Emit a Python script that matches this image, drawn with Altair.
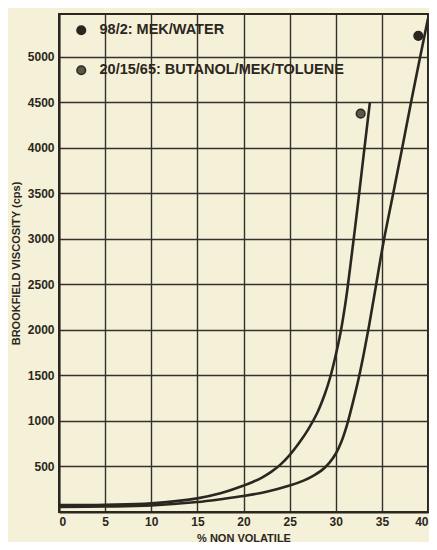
import altair as alt
import pandas as pd

# ---- data ----
butanol_x = [0, 5, 10, 15, 17.5, 20, 21, 22, 23, 24, 25, 26, 27, 28, 28.8, 29.4, 29.9,
             30.5, 31.1, 31.7, 32.4, 33.0, 33.7]
butanol_y = [75, 80, 95, 150, 205, 290, 330, 378, 440, 520, 625, 755, 905, 1090, 1290, 1480, 1680,
             1960, 2330, 2800, 3380, 3900, 4500]

mek_x = [0, 5, 10, 15, 17.5, 20, 22.5, 25, 26.5, 27.5, 28.5, 29.3, 30.0, 30.6, 31.2, 31.8,
         32.4, 33.0, 33.6, 34.35, 35.15, 36.15, 37.15, 38.2, 40]
mek_y = [55, 60, 72, 110, 140, 175, 222, 290, 345, 395, 460, 540, 640, 770, 950, 1180,
         1430, 1720, 2040, 2480, 2950, 3460, 3970, 4520, 5420]

series_names = ["98/2: MEK/WATER", "20/15/65: BUTANOL/MEK/TOLUENE"]
point_x = [38.95, 32.7]
point_y = [5230, 4375]

x_ticks = [0, 5, 10, 15, 20, 25, 30, 35, 40]
y_ticks = [500, 1000, 1500, 2000, 2500, 3000, 3500, 4000, 4500, 5000]

# ---- tables ----
curves = pd.concat([
    pd.DataFrame({"nv": mek_x, "visc": mek_y, "series": series_names[0], "order": range(len(mek_x))}),
    pd.DataFrame({"nv": butanol_x, "visc": butanol_y, "series": series_names[1], "order": range(len(butanol_x))}),
])
points = pd.DataFrame({"nv": point_x, "visc": point_y, "series": series_names})

INK = "#2b2720"
BG = "#f5f0d8"
FONT = "Liberation Sans"

x_enc = alt.X("nv:Q",
              scale=alt.Scale(domain=[0, 40], nice=False, zero=False),
              axis=alt.Axis(title="% NON VOLATILE", values=x_ticks, format="d",
                            grid=True, gridColor="#35312a", gridWidth=1.4,
                            domainColor=INK, domainWidth=2, ticks=False,
                            labelPadding=4, labelFont=FONT, labelFontSize=12,
                            labelFontWeight="bold", labelColor=INK,
                            titleFont=FONT, titleFontSize=11, titleFontWeight="bold",
                            titleColor=INK, titlePadding=5))
y_enc = alt.Y("visc:Q",
              scale=alt.Scale(domain=[0, 5470], nice=False),
              axis=alt.Axis(title="BROOKFIELD VISCOSITY (cps)", values=y_ticks, format="d",
                            grid=True, gridColor="#35312a", gridWidth=1.4,
                            domainColor=INK, domainWidth=2, ticks=False,
                            labelPadding=5, labelFont=FONT, labelFontSize=12,
                            labelFontWeight="bold", labelColor=INK,
                            titleFont=FONT, titleFontSize=11, titleFontWeight="bold",
                            titleColor=INK, titlePadding=6))

lines = alt.Chart(curves).mark_line(
    interpolate="catmull-rom", strokeWidth=2.6, color=INK, clip=True
).encode(x=x_enc, y=y_enc, detail="series:N", order="order:Q")

dots = alt.Chart(points).mark_point(
    filled=True, size=75, stroke=INK, strokeWidth=1.5, opacity=1
).encode(
    x="nv:Q", y="visc:Q",
    color=alt.Color("series:N",
                    scale=alt.Scale(domain=series_names, range=[INK, "#5a564a"]),
                    sort=None,
                    legend=alt.Legend(orient="none", legendX=15, legendY=9, title=None,
                                      symbolType="circle", symbolSize=75,
                                      symbolStrokeColor=INK, symbolStrokeWidth=1.5,
                                      labelFont=FONT, labelFontSize=14.5, labelFontWeight="bold",
                                      labelColor=INK,
                                      labelOffset=11, rowPadding=24, padding=0,
                                      labelLimit=400))
)

chart = alt.layer(lines, dots).properties(
    width=369, height=498,
    background=BG,
    padding={"left": 51, "top": 6, "right": 1, "bottom": 30},
    autosize=alt.AutoSizeParams(type="none"),
).configure_view(stroke=INK, strokeWidth=2)

chart.save("out.html", embed_options={"renderer": "svg", "actions": False})
